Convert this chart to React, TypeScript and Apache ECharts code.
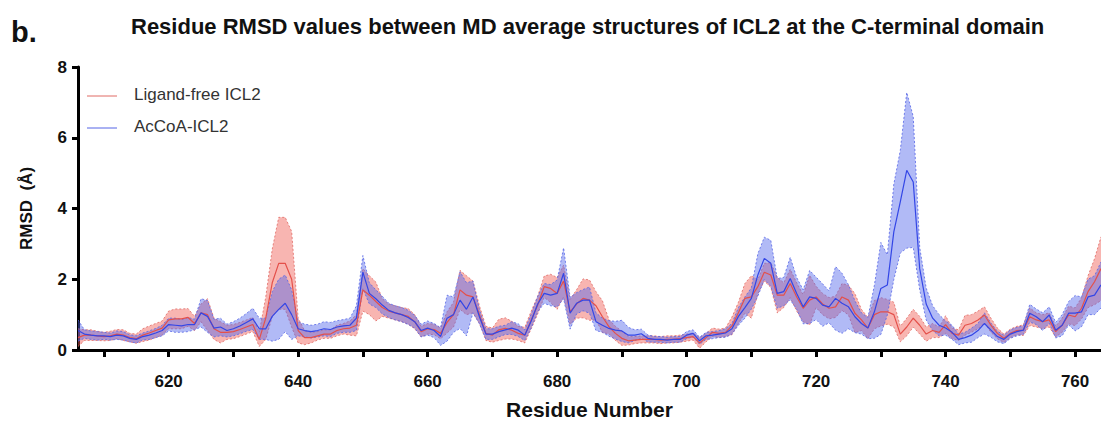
import React, { useEffect, useRef } from "react";
import * as echarts from "echarts";

const RESIDUE_START = 606;

// Ligand-free ICL2: mean RMSD and spread (SD) per residue, 606..764
const redMean = [
  0.35, 0.42, 0.42, 0.40, 0.38, 0.40, 0.45, 0.42, 0.35, 0.32,
  0.42, 0.48, 0.55, 0.62, 0.85, 0.88, 0.88, 0.92, 0.75, 1.05,
  1.00, 0.60, 0.50, 0.50, 0.52, 0.58, 0.65, 0.72, 0.30, 0.90,
  1.90, 2.45, 2.45, 2.00, 0.55, 0.35, 0.35, 0.40, 0.45, 0.45,
  0.55, 0.60, 0.62, 0.70, 1.70, 1.55, 1.37, 1.20, 1.10, 1.05,
  1.00, 0.95, 0.80, 0.52, 0.60, 0.58, 0.47, 0.78, 1.00, 1.70,
  1.55, 1.50, 1.00, 0.47, 0.42, 0.57, 0.61, 0.56, 0.47, 0.42,
  0.85, 1.27, 1.79, 1.74, 1.60, 1.95, 1.08, 1.30, 1.46, 1.41,
  1.25, 0.94, 0.66, 0.47, 0.33, 0.26, 0.28, 0.30, 0.30, 0.30,
  0.28, 0.30, 0.30, 0.32, 0.35, 0.38, 0.20, 0.35, 0.50, 0.47,
  0.50, 0.68, 1.05, 1.46, 1.50, 1.79, 2.20, 2.12, 1.55, 1.55,
  1.88, 1.50, 1.18, 1.41, 1.50, 1.30, 1.18, 1.22, 1.50, 1.41,
  1.04, 0.85, 0.62, 1.00, 1.08, 1.08, 1.00, 0.45, 0.65, 0.90,
  0.70, 0.45, 0.55, 0.50, 0.72, 0.47, 0.42, 0.70, 0.75, 0.85,
  0.99, 0.70, 0.47, 0.33, 0.47, 0.55, 0.56, 0.94, 0.85, 0.80,
  0.85, 0.52, 0.70, 0.99, 0.94, 1.18, 1.65, 1.93, 2.30,
];
const redSd = [
  0.25, 0.15, 0.15, 0.13, 0.12, 0.13, 0.13, 0.15, 0.12, 0.13,
  0.18, 0.20, 0.20, 0.20, 0.25, 0.28, 0.28, 0.25, 0.20, 0.25,
  0.45, 0.30, 0.30, 0.20, 0.20, 0.20, 0.20, 0.20, 0.20, 0.60,
  0.95, 1.30, 1.30, 1.35, 0.35, 0.20, 0.15, 0.12, 0.12, 0.12,
  0.15, 0.15, 0.20, 0.30, 0.60, 0.55, 0.55, 0.25, 0.20, 0.20,
  0.20, 0.22, 0.20, 0.15, 0.15, 0.15, 0.15, 0.30, 0.35, 0.55,
  0.55, 0.45, 0.25, 0.20, 0.20, 0.30, 0.30, 0.25, 0.20, 0.22,
  0.25, 0.25, 0.30, 0.40, 0.45, 0.45, 0.35, 0.40, 0.55, 0.57,
  0.40, 0.45, 0.20, 0.20, 0.20, 0.12, 0.10, 0.10, 0.10, 0.10,
  0.10, 0.10, 0.10, 0.10, 0.10, 0.10, 0.15, 0.12, 0.12, 0.12,
  0.12, 0.25, 0.30, 0.42, 0.60, 0.20, 0.25, 0.35, 0.50, 0.35,
  0.40, 0.40, 0.38, 0.70, 0.30, 0.30, 0.30, 0.30, 0.38, 0.42,
  0.55, 0.30, 0.30, 0.40, 0.40, 0.35, 0.35, 0.22, 0.25, 0.25,
  0.25, 0.20, 0.20, 0.15, 0.25, 0.15, 0.15, 0.28, 0.25, 0.25,
  0.23, 0.20, 0.15, 0.12, 0.12, 0.12, 0.15, 0.25, 0.20, 0.20,
  0.20, 0.15, 0.20, 0.25, 0.25, 0.30, 0.45, 0.65, 0.90,
];

// AcCoA-ICL2: mean RMSD and spread (SD) per residue, 606..764
const blueMean = [
  0.55, 0.45, 0.42, 0.40, 0.40, 0.38, 0.42, 0.40, 0.33, 0.30,
  0.38, 0.42, 0.48, 0.55, 0.72, 0.70, 0.68, 0.72, 0.72, 1.05,
  0.95, 0.62, 0.65, 0.55, 0.60, 0.68, 0.78, 0.88, 0.60, 0.60,
  0.95, 1.15, 1.32, 1.00, 0.60, 0.55, 0.52, 0.55, 0.60, 0.58,
  0.65, 0.68, 0.70, 0.90, 2.20, 1.60, 1.45, 1.27, 1.12, 1.05,
  1.00, 0.92, 0.80, 0.55, 0.62, 0.55, 0.38, 0.90, 1.00, 1.41,
  1.15, 1.50, 0.94, 0.45, 0.45, 0.52, 0.57, 0.62, 0.56, 0.42,
  0.82, 1.30, 1.60, 1.55, 1.60, 2.17, 1.04, 1.32, 1.41, 1.41,
  0.80, 0.70, 0.61, 0.56, 0.54, 0.42, 0.42, 0.46, 0.33, 0.30,
  0.30, 0.28, 0.30, 0.30, 0.42, 0.47, 0.26, 0.40, 0.42, 0.45,
  0.48, 0.60, 0.95, 1.20, 1.46, 2.12, 2.59, 2.45, 1.60, 1.65,
  2.02, 1.60, 1.22, 1.50, 1.46, 1.27, 1.22, 1.46, 1.32, 1.22,
  0.94, 0.75, 0.62, 1.08, 1.74, 1.84, 3.34, 4.19, 5.08, 4.75,
  2.30, 1.30, 0.90, 0.70, 0.62, 0.50, 0.30, 0.35, 0.42, 0.55,
  0.75, 0.56, 0.38, 0.30, 0.45, 0.52, 0.56, 1.04, 0.94, 0.80,
  0.99, 0.56, 0.70, 1.04, 1.04, 1.08, 1.50, 1.55, 1.84,
];
const blueSd = [
  0.30, 0.12, 0.12, 0.12, 0.10, 0.10, 0.12, 0.12, 0.10, 0.10,
  0.10, 0.12, 0.13, 0.15, 0.18, 0.20, 0.18, 0.20, 0.15, 0.40,
  0.45, 0.25, 0.25, 0.18, 0.20, 0.22, 0.25, 0.30, 0.30, 0.30,
  0.70, 0.85, 0.80, 0.70, 0.20, 0.18, 0.18, 0.18, 0.20, 0.20,
  0.18, 0.18, 0.20, 0.35, 0.47, 0.30, 0.25, 0.25, 0.20, 0.20,
  0.20, 0.20, 0.18, 0.18, 0.20, 0.20, 0.25, 0.65, 0.50, 0.80,
  0.75, 0.45, 0.20, 0.15, 0.15, 0.15, 0.13, 0.18, 0.18, 0.15,
  0.20, 0.22, 0.28, 0.30, 0.38, 0.72, 0.45, 0.30, 0.30, 0.37,
  0.25, 0.20, 0.22, 0.25, 0.30, 0.22, 0.15, 0.13, 0.10, 0.08,
  0.08, 0.08, 0.08, 0.08, 0.10, 0.10, 0.10, 0.10, 0.10, 0.10,
  0.12, 0.15, 0.25, 0.30, 0.30, 0.60, 0.60, 0.65, 0.42, 0.40,
  0.60, 0.45, 0.48, 0.75, 0.60, 0.60, 0.45, 0.90, 0.85, 0.62,
  0.45, 0.30, 0.30, 0.75, 1.30, 0.85, 1.35, 1.45, 2.20, 1.85,
  0.60, 0.45, 0.35, 0.30, 0.20, 0.20, 0.15, 0.15, 0.20, 0.20,
  0.30, 0.20, 0.15, 0.12, 0.12, 0.12, 0.12, 0.25, 0.22, 0.25,
  0.23, 0.22, 0.30, 0.33, 0.50, 0.42, 0.50, 0.55, 0.65,
];

const xTickValues = [610, 620, 630, 640, 650, 660, 670, 680, 690, 700, 710, 720, 730, 740, 750, 760];
const xLabelValues = [620, 640, 660, 680, 700, 720, 740, 760];
const seriesNames = ["Ligand-free ICL2", "AcCoA-ICL2"];

const FONT = "'Liberation Sans', Arial, Helvetica, sans-serif";
const RED_LINE = "#e4504a";
const RED_EDGE = "#e06a64";
const RED_FILL = "rgba(240, 92, 82, 0.45)";
const BLUE_LINE = "#3346e6";
const BLUE_EDGE = "#5564e6";
const BLUE_FILL = "rgba(82, 102, 236, 0.45)";

export default function App() {
  const ref = useRef<HTMLDivElement>(null);

  useEffect(() => {
    document.body.style.margin = "0";
    const chart = echarts.init(ref.current!, null, { renderer: "svg" });
    const residues = redMean.map((_, i) => RESIDUE_START + i);
    const mean = (m: number[]) => m.map((v, i) => [residues[i], v]);

    const bandSeries = (m: number[], s: number[], fill: string, stroke: string, z: number) => ({
      type: "custom",
      silent: true,
      clip: true,
      z,
      data: [[residues[0], m[0]]],
      renderItem: (_params: any, api: any) => {
        const upper = m.map((v, i) => api.coord([residues[i], v + s[i]]));
        const lower = m.map((v, i) => api.coord([residues[i], Math.max(0, v - s[i])]));
        return {
          type: "group",
          children: [
            {
              type: "polygon",
              shape: { points: upper.concat(lower.slice().reverse()) },
              style: { fill, stroke: "none" },
            },
            {
              type: "polyline",
              shape: { points: upper },
              style: { fill: "none", stroke, lineWidth: 0.8, lineDash: [2, 2] },
            },
            {
              type: "polyline",
              shape: { points: lower },
              style: { fill: "none", stroke, lineWidth: 0.8, lineDash: [2, 2] },
            },
          ],
        };
      },
    });

    chart.setOption({
      animation: false,
      textStyle: { fontFamily: FONT },
      grid: { left: 78, right: 0, top: 67, bottom: 71, containLabel: false, outerBoundsMode: "none" },
      xAxis: {
        type: "value",
        min: RESIDUE_START,
        max: RESIDUE_START + redMean.length - 1,
        name: "Residue Number",
        nameLocation: "middle",
        nameGap: 49,
        nameTextStyle: { fontSize: 21, fontWeight: "bold", color: "#111", fontFamily: FONT },
        axisLine: { show: true, lineStyle: { color: "#000", width: 3 } },
        axisTick: {
          show: true,
          customValues: xTickValues,
          length: 7,
          lineStyle: { color: "#000", width: 3 },
        },
        axisLabel: {
          customValues: xLabelValues,
          margin: 23,
          fontSize: 17,
          fontWeight: "bold",
          color: "#111",
          fontFamily: FONT,
        },
        splitLine: { show: false },
      },
      yAxis: {
        type: "value",
        min: 0,
        max: 8,
        interval: 2,
        name: "RMSD  (Å)",
        nameLocation: "middle",
        nameRotate: 90,
        nameGap: 43,
        nameTextStyle: { fontSize: 17, fontWeight: "bold", color: "#111", fontFamily: FONT },
        axisLine: { show: true, lineStyle: { color: "#000", width: 3 } },
        axisTick: { show: true, length: 6, lineStyle: { color: "#000", width: 3 } },
        axisLabel: { margin: 11, fontSize: 17, fontWeight: "bold", color: "#111", fontFamily: FONT },
        splitLine: { show: false },
      },
      graphic: [
        {
          type: "text",
          left: 11,
          top: 17,
          style: { text: "b.", fontSize: 29, fontWeight: "bold", fill: "#111", fontFamily: FONT },
        },
        {
          type: "text",
          left: 131,
          top: 15,
          style: {
            text: "Residue RMSD values between MD average structures of ICL2 at the C-terminal domain",
            fontSize: 22,
            fontWeight: "bold",
            fill: "#111",
            fontFamily: FONT,
          },
        },
        {
          type: "line",
          shape: { x1: 87, y1: 96, x2: 117, y2: 96 },
          style: { stroke: RED_EDGE, lineWidth: 1 },
        },
        {
          type: "text",
          left: 134,
          top: 86,
          style: { text: seriesNames[0], fontSize: 17, fill: "#333", fontFamily: FONT },
        },
        {
          type: "line",
          shape: { x1: 87, y1: 128, x2: 117, y2: 128 },
          style: { stroke: BLUE_EDGE, lineWidth: 1 },
        },
        {
          type: "text",
          left: 134,
          top: 118,
          style: { text: seriesNames[1], fontSize: 17, fill: "#333", fontFamily: FONT },
        },
      ],
      series: [
        bandSeries(redMean, redSd, RED_FILL, RED_EDGE, 1),
        bandSeries(blueMean, blueSd, BLUE_FILL, BLUE_EDGE, 2),
        {
          type: "line",
          name: seriesNames[0],
          data: mean(redMean),
          symbol: "none",
          lineStyle: { color: RED_LINE, width: 1.2 },
          z: 3,
        },
        {
          type: "line",
          name: seriesNames[1],
          data: mean(blueMean),
          symbol: "none",
          lineStyle: { color: BLUE_LINE, width: 1.2 },
          z: 4,
        },
      ],
    });

    return () => chart.dispose();
  }, []);

  return <div ref={ref} style={{ width: 1101, height: 421 }} />;
}
